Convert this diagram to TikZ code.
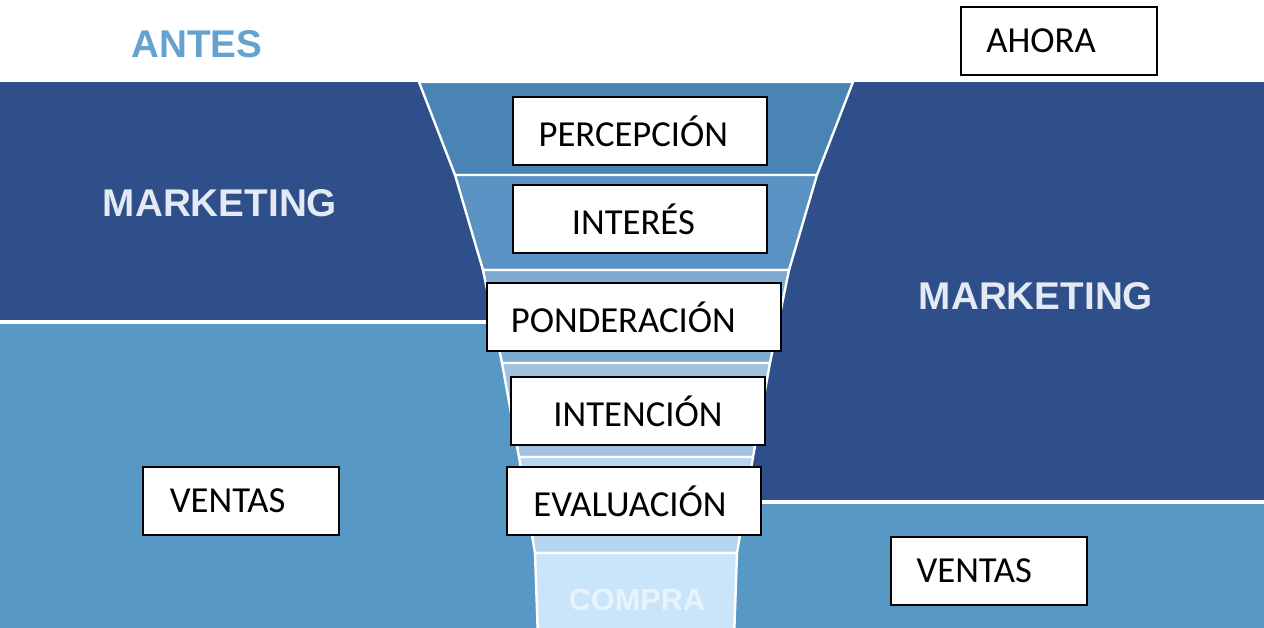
\documentclass[tikz,border=0pt]{standalone}
\usepackage{fontspec}
\newfontfamily\boxfont{Carlito}
\newfontfamily\headfont{Liberation Sans}
\definecolor{darkside}{HTML}{2E4F8A}
\definecolor{lightside}{HTML}{5799C4}
\definecolor{bandA}{HTML}{4A84B4}
\definecolor{bandB}{HTML}{5A93C3}
\definecolor{bandC}{HTML}{7FABD0}
\definecolor{bandD}{HTML}{A2C3E0}
\definecolor{bandE}{HTML}{B6D6EF}
\definecolor{bandF}{HTML}{CAE4F9}
\definecolor{antesblue}{HTML}{64A3CE}
\definecolor{headwhite}{HTML}{E4EAF3}
\definecolor{comprawhite}{HTML}{E8F3FC}
\begin{document}
\begin{tikzpicture}[x=0.75pt,y=-0.75pt,
  stagebox/.style={draw=black,line width=1.6pt,fill=white,inner sep=0pt,
    minimum height=68*0.75pt,font=\boxfont\fontsize{27.5}{32}\selectfont},
  headtext/.style={font=\headfont\bfseries\fontsize{29}{34}\selectfont,text=headwhite}]
\useasboundingbox (0,0) rectangle (1264,628);
\fill[white] (0,0) rectangle (1264,82);
\fill[darkside] (0,82) rectangle (636,322);
\fill[lightside] (0,322) rectangle (636,628);
\fill[darkside] (636,82) rectangle (1264,502);
\fill[lightside] (636,502) rectangle (1264,628);
\draw[white,line width=2.5pt] (0,322) -- (500,322);
\draw[white,line width=2.5pt] (760,502) -- (1264,502);
\foreach \ya/\wa/\yb/\wb/\col in {82/217/175/181/bandA,175/181/270/153/bandB,
    270/153/363/134/bandC,363/134/457/117/bandD,457/117/553/101/bandE,553/101/640/98/bandF}
  \filldraw[fill=\col,draw=white,line width=1.8pt,line join=round]
    ({636-\wa},\ya) -- ({636+\wa},\ya) -- ({636+\wb},\yb) -- ({636-\wb},\yb) -- cycle;
\node[font=\headfont\bfseries\fontsize{29}{34}\selectfont,text=antesblue] (antes) at (197,44) {ANTES};
\node[headtext] (mktleft) at (220,203) {MARKETING};
\node[headtext] (mktright) at (1036,296) {MARKETING};
\node[font=\headfont\bfseries\fontsize{23}{28}\selectfont,text=comprawhite] (compra) at (637,600) {COMPRA};
\node[stagebox,minimum width=196*0.75pt] (ahora) at (1059,41) {AHORA\hspace*{27pt}};
\node[stagebox,minimum width=254*0.75pt] (percepcion) at (640,131) {PERCEPCIÓN\hspace*{10pt}};
\node[stagebox,minimum width=254*0.75pt] (interes) at (640,219) {INTERÉS\hspace*{10pt}};
\node[stagebox,minimum width=294*0.75pt] (ponderacion) at (634,317) {PONDERACIÓN\hspace*{16pt}};
\node[stagebox,minimum width=254*0.75pt] (intencion) at (638,411) {INTENCIÓN};
\node[stagebox,minimum width=254*0.75pt] (evaluacion) at (634,501) {EVALUACIÓN\hspace*{6pt}};
\node[stagebox,minimum width=196*0.75pt] (ventasleft) at (241,501) {VENTAS\hspace*{20pt}};
\node[stagebox,minimum width=196*0.75pt] (ventasright) at (989,571) {VENTAS\hspace*{22pt}};
\end{tikzpicture}
\end{document}
